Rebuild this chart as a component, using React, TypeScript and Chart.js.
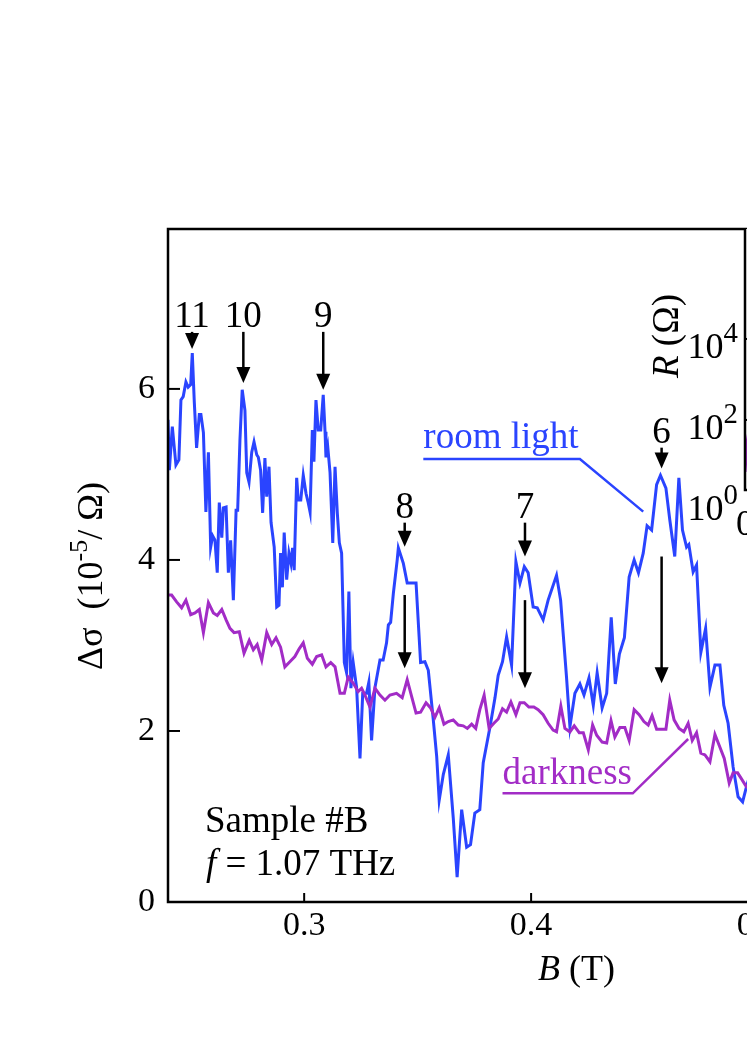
import React, { useEffect, useRef } from "react";
import { Chart, registerables } from "chart.js";

Chart.register(...registerables);

const FONT = '"Liberation Serif", "Times New Roman", Times, serif';
const BLUE = "#2a44ff";
const PURPLE = "#a22cc6";
const INK = "#000000";

// ---- main data: Δσ (10^-5 / Ω) vs B (T) ----
const LIGHT_B = [
  0.2400, 0.2406, 0.2419, 0.2435, 0.2448, 0.2457, 0.2467, 0.2479, 0.2489, 0.2500,
  0.2507, 0.2516, 0.2526, 0.2538, 0.2545, 0.2556, 0.2567, 0.2578, 0.2588, 0.2597,
  0.2607, 0.2617, 0.2626, 0.2637, 0.2644, 0.2656, 0.2666, 0.2676, 0.2688, 0.2700,
  0.2707, 0.2717, 0.2727, 0.2739, 0.2747, 0.2757, 0.2769, 0.2779, 0.2791, 0.2798,
  0.2808, 0.2817, 0.2827, 0.2835, 0.2845, 0.2854, 0.2868, 0.2879, 0.2889, 0.2896,
  0.2904, 0.2912, 0.2923, 0.2933, 0.2942, 0.2949, 0.2956, 0.2967, 0.2974, 0.2985,
  0.2996, 0.3008, 0.3017, 0.3026, 0.3036, 0.3043, 0.3052, 0.3062, 0.3073, 0.3084,
  0.3092, 0.3096, 0.3104, 0.3114, 0.3126, 0.3136, 0.3146, 0.3155, 0.3165, 0.3177,
  0.3187, 0.3197, 0.3206, 0.3216, 0.3231, 0.3246, 0.3258, 0.3275, 0.3285, 0.3297,
  0.3312, 0.3334, 0.3348, 0.3363, 0.3371, 0.3381, 0.3393, 0.3410, 0.3415, 0.3437,
  0.3454, 0.3474, 0.3493, 0.3513, 0.3532, 0.3547, 0.3569, 0.3584, 0.3595, 0.3613,
  0.3635, 0.3657, 0.3674, 0.3694, 0.3716, 0.3733, 0.3752, 0.3774, 0.3789, 0.3819,
  0.3841, 0.3855, 0.3874, 0.3892, 0.3914, 0.3933, 0.3951, 0.3970, 0.3987, 0.4009,
  0.4027, 0.4053, 0.4075, 0.4112, 0.4130, 0.4156, 0.4171, 0.4193, 0.4215, 0.4233,
  0.4255, 0.4274, 0.4291, 0.4313, 0.4333, 0.4353, 0.4371, 0.4389, 0.4411, 0.4432,
  0.4454, 0.4473, 0.4494, 0.4511, 0.4531, 0.4553, 0.4570, 0.4594, 0.4611, 0.4633,
  0.4651, 0.4667, 0.4685, 0.4695, 0.4714, 0.4729, 0.4748, 0.4769, 0.4788, 0.4810,
  0.4832, 0.4849, 0.4868, 0.4890, 0.4912, 0.4932, 0.4949, 0.4966,
];
const LIGHT_DS = [
  5.64, 5.05, 5.56, 5.11, 5.17, 5.87, 5.91, 6.08, 6.02, 6.05,
  6.42, 5.84, 5.31, 5.70, 5.70, 5.49, 4.56, 5.26, 4.15, 4.28,
  4.23, 3.85, 4.67, 4.26, 4.61, 4.62, 3.85, 4.23, 3.53, 4.58,
  4.58, 5.40, 5.99, 5.75, 5.02, 4.91, 5.26, 5.38, 5.23, 5.20,
  5.05, 4.55, 5.19, 4.74, 5.09, 4.44, 4.15, 3.45, 3.47, 4.08,
  3.68, 4.32, 3.77, 4.08, 3.96, 4.14, 3.88, 4.96, 4.70, 4.70,
  4.99, 4.78, 4.68, 4.56, 5.52, 5.15, 5.87, 5.52, 5.52, 5.93,
  5.50, 5.20, 5.32, 5.02, 4.20, 5.09, 4.55, 4.20, 4.08, 2.80,
  2.68, 3.63, 2.50, 2.80, 2.51, 1.68, 2.44, 2.44, 2.57, 1.89,
  2.51, 2.83, 2.83, 3.03, 3.24, 3.27, 3.61, 4.00, 4.14, 3.96,
  3.73, 3.73, 3.73, 2.80, 2.81, 2.71, 2.13, 1.70, 1.19, 1.49,
  1.72, 0.98, 0.29, 1.08, 0.64, 0.67, 1.04, 1.08, 1.63, 2.05,
  2.39, 2.65, 2.81, 3.10, 2.77, 3.98, 3.73, 3.92, 3.85, 3.45,
  3.44, 3.30, 3.53, 3.82, 3.53, 2.63, 2.05, 2.44, 2.55, 2.42,
  2.62, 2.30, 2.68, 2.27, 2.44, 3.33, 2.55, 2.90, 3.09, 3.80,
  4.00, 3.85, 4.08, 4.40, 4.35, 4.88, 4.99, 4.84, 4.47, 4.04,
  4.96, 4.35, 4.15, 4.18, 3.86, 3.94, 2.92, 3.20, 2.51, 2.77,
  2.77, 2.30, 2.09, 1.58, 1.23, 1.17, 1.35, 1.50,
];

const DARK_B = [
  0.2400, 0.2416, 0.2438, 0.2460, 0.2479, 0.2500, 0.2519, 0.2538, 0.2556, 0.2578,
  0.2600, 0.2617, 0.2637, 0.2656, 0.2673, 0.2691, 0.2714, 0.2735, 0.2758, 0.2776,
  0.2793, 0.2813, 0.2835, 0.2857, 0.2876, 0.2896, 0.2915, 0.2937, 0.2959, 0.2978,
  0.2996, 0.3014, 0.3036, 0.3055, 0.3077, 0.3096, 0.3117, 0.3136, 0.3158, 0.3177,
  0.3194, 0.3216, 0.3238, 0.3253, 0.3268, 0.3290, 0.3312, 0.3334, 0.3356, 0.3378,
  0.3407, 0.3432, 0.3454, 0.3474, 0.3493, 0.3513, 0.3537, 0.3557, 0.3576, 0.3595,
  0.3616, 0.3635, 0.3657, 0.3679, 0.3701, 0.3719, 0.3738, 0.3756, 0.3774, 0.3793,
  0.3815, 0.3836, 0.3855, 0.3874, 0.3892, 0.3911, 0.3933, 0.3951, 0.3970, 0.3990,
  0.4012, 0.4031, 0.4053, 0.4075, 0.4097, 0.4112, 0.4131, 0.4149, 0.4171, 0.4190,
  0.4212, 0.4230, 0.4252, 0.4271, 0.4289, 0.4313, 0.4333, 0.4352, 0.4369, 0.4391,
  0.4413, 0.4432, 0.4454, 0.4476, 0.4497, 0.4516, 0.4533, 0.4553, 0.4575, 0.4594,
  0.4611, 0.4630, 0.4652, 0.4673, 0.4692, 0.4710, 0.4729, 0.4748, 0.4766, 0.4788,
  0.4810, 0.4832, 0.4851, 0.4873, 0.4890, 0.4910, 0.4927, 0.4946, 0.4964,
];
const DARK_DS = [
  3.59, 3.59, 3.51, 3.44, 3.53, 3.36, 3.38, 3.42, 3.15, 3.50,
  3.38, 3.35, 3.42, 3.30, 3.20, 3.15, 3.16, 2.91, 3.06, 2.95,
  3.01, 2.83, 3.15, 3.01, 3.09, 2.98, 2.75, 2.81, 2.87, 2.96,
  3.03, 2.85, 2.78, 2.87, 2.89, 2.75, 2.80, 2.75, 2.44, 2.44,
  2.63, 2.56, 2.46, 2.50, 2.42, 2.28, 2.50, 2.42, 2.36, 2.42,
  2.44, 2.39, 2.60, 2.40, 2.21, 2.22, 2.33, 2.27, 2.16, 2.27,
  2.08, 2.11, 2.13, 2.07, 2.06, 2.03, 2.08, 2.03, 2.25, 2.42,
  2.03, 2.09, 2.14, 2.26, 2.22, 2.34, 2.19, 2.33, 2.33, 2.28,
  2.28, 2.25, 2.19, 2.09, 2.01, 1.99, 2.29, 2.03, 1.99, 2.06,
  1.98, 1.98, 1.78, 2.07, 1.95, 1.87, 1.86, 2.12, 1.93, 2.04,
  2.04, 1.89, 2.25, 2.19, 2.11, 2.07, 2.18, 2.02, 2.02, 2.02,
  2.36, 2.13, 2.03, 1.99, 2.09, 1.89, 1.98, 1.74, 1.72, 1.64,
  1.96, 1.81, 1.68, 1.39, 1.51, 1.51, 1.44, 1.36, 1.31,
];

const X_RANGE = [0.24, 0.6];
const Y_RANGE = [0, 7.87];
const X_TICKS = [0.3, 0.4, 0.5];
const Y_TICKS = [0, 2, 4, 6];

// ---- inset: R (Ω) vs B, log scale ----
const INSET_B = [0.0, 0.005, 0.02];
const INSET_R = [5.2, 27, 200];
const INSET_X_RANGE = [0, 0.6];
const INSET_Y_RANGE = [1.86, 5.2e6];
const INSET_X_TICKS = [0];
const INSET_Y_TICKS = [1, 100, 10000];

// ---- annotations (data coordinates) ----
const PEAK_LABELS = ["11", "10", "9", "8", "7", "6"];
const PEAK_B = [0.2506, 0.2732, 0.3084, 0.3443, 0.3973, 0.4575];
const PEAK_ARROW_TOP = [6.667, 6.667, 6.667, 4.436, 4.436, 5.313];
const PEAK_ARROW_TIP = [6.468, 6.07, 5.99, 4.155, 4.04, 5.07];
const LONG_ARROW_B = [0.3443, 0.3973, 0.4575];
const LONG_ARROW_TOP = [3.59, 3.53, 4.04];
const LONG_ARROW_TIP = [2.733, 2.5, 2.557];

type Part = { t: string; italic?: boolean; sup?: boolean };

function drawParts(
  ctx: CanvasRenderingContext2D,
  parts: Part[],
  x: number,
  y: number,
  size: number,
  color: string,
  align: "left" | "center" | "right",
  supScale = 0.72,
  supRaise = 0.42
) {
  const fonts = parts.map(
    (p) => `${p.italic ? "italic " : ""}${p.sup ? size * supScale : size}px ${FONT}`
  );
  const widths = parts.map((p, i) => {
    ctx.font = fonts[i];
    return ctx.measureText(p.t).width;
  });
  const total = widths.reduce((a, b) => a + b, 0);
  let cx = align === "left" ? x : align === "center" ? x - total / 2 : x - total;
  ctx.fillStyle = color;
  ctx.textAlign = "left";
  ctx.textBaseline = "alphabetic";
  parts.forEach((p, i) => {
    ctx.font = fonts[i];
    ctx.fillText(p.t, cx, p.sup ? y - size * supRaise : y);
    cx += widths[i];
  });
}

function drawArrow(ctx: CanvasRenderingContext2D, x: number, y0: number, y1: number) {
  const head = 16;
  const half = 7;
  ctx.strokeStyle = INK;
  ctx.fillStyle = INK;
  ctx.lineWidth = 2.5;
  if (y1 - head > y0) {
    ctx.beginPath();
    ctx.moveTo(x, y0);
    ctx.lineTo(x, y1 - head + 1);
    ctx.stroke();
  }
  ctx.beginPath();
  ctx.moveTo(x - half, y1 - head);
  ctx.lineTo(x + half, y1 - head);
  ctx.lineTo(x, y1);
  ctx.closePath();
  ctx.fill();
}

const mainPlugin = {
  id: "mainDecor",
  afterDatasetsDraw(chart: any) {
    const { ctx, chartArea: a } = chart;
    const xs = chart.scales.x;
    const ys = chart.scales.y;
    const X = (v: number) => xs.getPixelForValue(v);
    const Y = (v: number) => ys.getPixelForValue(v);
    ctx.save();

    // peak arrows and numbers
    PEAK_LABELS.forEach((lab, i) => {
      const px = X(PEAK_B[i]);
      const top = Y(PEAK_ARROW_TOP[i]);
      drawArrow(ctx, px, top, Y(PEAK_ARROW_TIP[i]));
      drawParts(ctx, [{ t: lab }], px, top - 5, 37, INK, "center");
    });
    LONG_ARROW_B.forEach((b, i) => {
      drawArrow(ctx, X(b), Y(LONG_ARROW_TOP[i]), Y(LONG_ARROW_TIP[i]));
    });

    // room light label
    drawParts(ctx, [{ t: "room light" }], X(0.3525), Y(5.306), 37, BLUE, "left");
    ctx.strokeStyle = BLUE;
    ctx.lineWidth = 2.5;
    ctx.beginPath();
    ctx.moveTo(X(0.3525), Y(5.181));
    ctx.lineTo(X(0.4215), Y(5.181));
    ctx.lineTo(X(0.4494), Y(4.565));
    ctx.stroke();

    // darkness label
    drawParts(ctx, [{ t: "darkness" }], X(0.3874), Y(1.38), 37, PURPLE, "left");
    ctx.strokeStyle = PURPLE;
    ctx.beginPath();
    ctx.moveTo(X(0.3874), Y(1.271));
    ctx.lineTo(X(0.4448), Y(1.271));
    ctx.lineTo(X(0.4692), Y(1.906));
    ctx.stroke();

    // sample info
    drawParts(ctx, [{ t: "Sample #B" }], X(0.2563), Y(0.822), 37, INK, "left");
    drawParts(ctx, [{ t: "f", italic: true }, { t: " = 1.07 THz" }], X(0.2567), Y(0.316), 37, INK, "left");

    // frame
    ctx.strokeStyle = INK;
    ctx.lineWidth = 2.5;
    ctx.strokeRect(a.left, a.top, a.right - a.left, a.bottom - a.top);
    // inward ticks
    ctx.lineWidth = 2;
    X_TICKS.forEach((v) => {
      const px = X(v);
      ctx.beginPath();
      ctx.moveTo(px, a.bottom);
      ctx.lineTo(px, a.bottom - 9);
      ctx.stroke();
    });
    Y_TICKS.forEach((v) => {
      const py = Y(v);
      ctx.beginPath();
      ctx.moveTo(a.left, py);
      ctx.lineTo(a.left + 12, py);
      ctx.stroke();
    });

    // axis titles
    drawParts(
      ctx,
      [{ t: "B", italic: true }, { t: " (T)" }],
      (a.left + a.right) / 2,
      a.bottom + 78,
      36,
      INK,
      "center"
    );
    ctx.save();
    ctx.translate(a.left - 66, a.top + 347);
    ctx.rotate(-Math.PI / 2);
    drawParts(
      ctx,
      [{ t: "Δσ  (10" }, { t: "-5", sup: true }, { t: "/ Ω)" }],
      0,
      0,
      36,
      INK,
      "center"
    );
    ctx.restore();
    ctx.restore();
  },
};

const insetPlugin = {
  id: "insetDecor",
  beforeDatasetsDraw(chart: any) {
    const { ctx, chartArea: a } = chart;
    ctx.save();
    ctx.fillStyle = "#ffffff";
    ctx.fillRect(a.left, a.top, a.right - a.left, a.bottom - a.top);
    ctx.restore();
  },
  afterDraw(chart: any) {
    const { ctx, chartArea: a } = chart;
    const ys = chart.scales.y;
    ctx.save();
    ctx.strokeStyle = INK;
    ctx.lineWidth = 2.5;
    ctx.beginPath();
    ctx.moveTo(a.left, a.top);
    ctx.lineTo(a.left, a.bottom);
    ctx.lineTo(a.right, a.bottom);
    ctx.stroke();
    ctx.lineWidth = 2;
    INSET_Y_TICKS.forEach((v) => {
      const py = ys.getPixelForValue(v);
      if (py < a.bottom - 3) {
        ctx.beginPath();
        ctx.moveTo(a.left, py);
        ctx.lineTo(a.left + 10, py);
        ctx.stroke();
      }
      const e = Math.round(Math.log10(v));
      drawParts(ctx, [{ t: "10" }, { t: String(e), sup: true }], a.left - 7, py + 19, 36, INK, "right", 0.8, 0.45);
    });
    ctx.save();
    ctx.translate(a.left - 67, a.top + 107);
    ctx.rotate(-Math.PI / 2);
    drawParts(ctx, [{ t: "R", italic: true }, { t: " (Ω)" }], 0, 0, 37, INK, "center");
    ctx.restore();
    ctx.restore();
  },
};

const MAIN_W = 1000;
const MAIN_H = 1056;
const INSET_W = 400;
const INSET_H = 400;

export default function App() {
  const mainRef = useRef<HTMLCanvasElement | null>(null);
  const insetRef = useRef<HTMLCanvasElement | null>(null);

  useEffect(() => {
    if (!mainRef.current || !insetRef.current) return;
    const tickFont = { family: FONT, size: 34 };
    const main = new Chart(mainRef.current, {
      type: "line",
      data: {
        datasets: [
          {
            label: "darkness",
            data: DARK_B.map((b, i) => ({ x: b, y: DARK_DS[i] })),
            borderColor: PURPLE,
            borderWidth: 3,
            pointRadius: 0,
            tension: 0,
            fill: false,
          },
          {
            label: "room light",
            data: LIGHT_B.map((b, i) => ({ x: b, y: LIGHT_DS[i] })),
            borderColor: BLUE,
            borderWidth: 3,
            pointRadius: 0,
            tension: 0,
            fill: false,
          },
        ],
      },
      options: {
        animation: false,
        responsive: false,
        maintainAspectRatio: false,
        layout: { padding: { left: 0, top: 229, right: 15, bottom: 54 } },
        plugins: { legend: { display: false }, tooltip: { enabled: false } },
        scales: {
          x: {
            type: "linear",
            min: X_RANGE[0],
            max: X_RANGE[1],
            grid: { display: false, drawTicks: false },
            border: { display: false },
            ticks: {
              font: tickFont,
              color: INK,
              padding: 4,
              maxRotation: 0,
              autoSkip: false,
              callback: (v: any) => Number(v).toFixed(1),
            },
            afterBuildTicks: (s: any) => {
              s.ticks = X_TICKS.map((v) => ({ value: v }));
            },
            afterFit: (s: any) => {
              s.height = 100;
            },
          },
          y: {
            type: "linear",
            min: Y_RANGE[0],
            max: Y_RANGE[1],
            grid: { display: false, drawTicks: false },
            border: { display: false },
            ticks: {
              font: tickFont,
              color: INK,
              padding: 13,
              autoSkip: false,
              callback: (v: any) => String(v),
            },
            afterBuildTicks: (s: any) => {
              s.ticks = Y_TICKS.map((v) => ({ value: v }));
            },
            afterFit: (s: any) => {
              s.width = 168;
            },
          },
        },
      },
      plugins: [mainPlugin],
    } as any);

    const inset = new Chart(insetRef.current, {
      type: "line",
      data: {
        datasets: [
          {
            data: INSET_B.map((b, i) => ({ x: b, y: INSET_R[i] })),
            borderColor: PURPLE,
            borderWidth: 3,
            pointRadius: 0,
            tension: 0,
          },
        ],
      },
      options: {
        animation: false,
        responsive: false,
        maintainAspectRatio: false,
        layout: { padding: { left: 0, top: 29, right: 20, bottom: 50 } },
        plugins: { legend: { display: false }, tooltip: { enabled: false } },
        scales: {
          x: {
            type: "linear",
            min: INSET_X_RANGE[0],
            max: INSET_X_RANGE[1],
            grid: { display: false, drawTicks: false },
            border: { display: false },
            ticks: {
              font: { family: FONT, size: 36 },
              color: INK,
              padding: 14,
              maxRotation: 0,
              autoSkip: false,
              callback: (v: any) => String(v),
            },
            afterBuildTicks: (s: any) => {
              s.ticks = INSET_X_TICKS.map((v) => ({ value: v }));
            },
            afterFit: (s: any) => {
              s.height = 60;
            },
          },
          y: {
            type: "logarithmic",
            min: INSET_Y_RANGE[0],
            max: INSET_Y_RANGE[1],
            grid: { display: false, drawTicks: false },
            border: { display: false },
            ticks: { display: false },
            afterBuildTicks: (s: any) => {
              s.ticks = INSET_Y_TICKS.map((v) => ({ value: v }));
            },
            afterFit: (s: any) => {
              s.width = 145;
            },
          },
        },
      },
      plugins: [insetPlugin],
    } as any);

    return () => {
      main.destroy();
      inset.destroy();
    };
  }, []);

  return (
    <div
      style={{
        position: "absolute",
        left: 0,
        top: 0,
        width: 747,
        height: 1056,
        overflow: "hidden",
        background: "#ffffff",
      }}
    >
      <canvas
        ref={mainRef}
        width={MAIN_W}
        height={MAIN_H}
        style={{ position: "absolute", left: 0, top: 0, width: MAIN_W, height: MAIN_H, display: "block" }}
      />
      <canvas
        ref={insetRef}
        width={INSET_W}
        height={INSET_H}
        style={{ position: "absolute", left: 600, top: 200, width: INSET_W, height: INSET_H, display: "block" }}
      />
    </div>
  );
}
